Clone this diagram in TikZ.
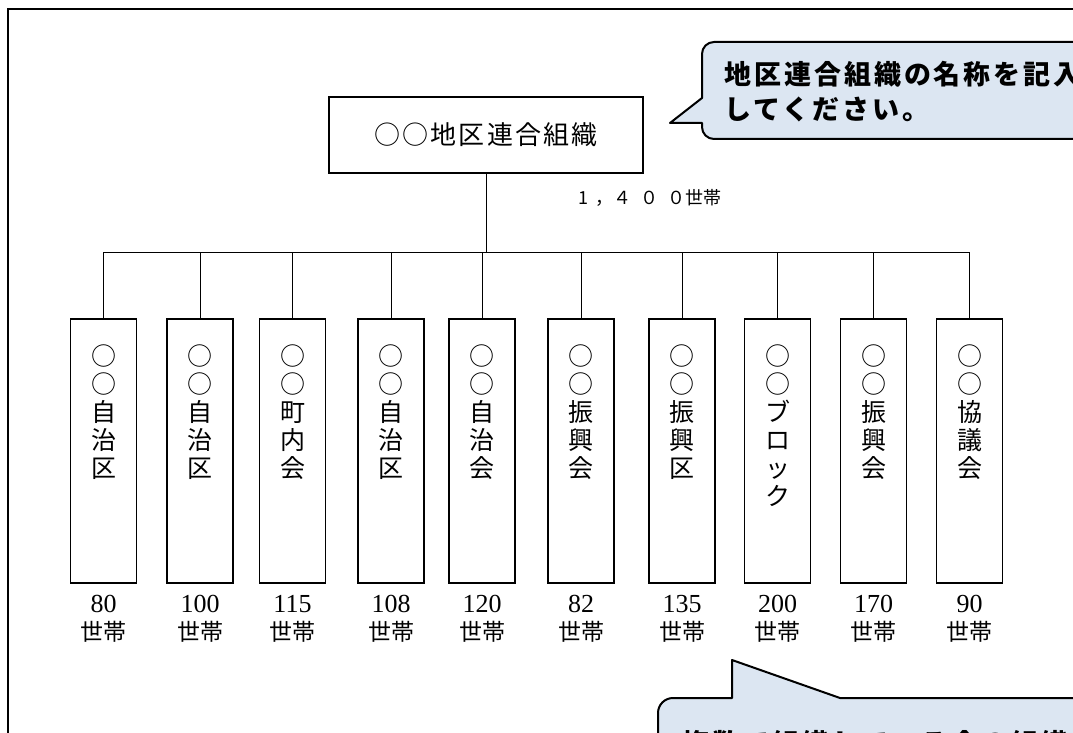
\documentclass[tikz,border=0pt]{standalone}
\usepackage{fontspec}
\setmainfont{Liberation Serif}
\newfontfamily\cjk{Noto Sans CJK JP}
\newfontfamily\cjkwide{Noto Sans CJK JP}[LetterSpace=8]
\newfontfamily\cjknote{Noto Sans CJK JP}[LetterSpace=11]
\usetikzlibrary{positioning}
\definecolor{notefill}{RGB}{220,230,242}

\begin{document}
\begin{tikzpicture}[x=1pt, y=-1pt,
    unit/.style={draw, line width=1.6pt, minimum width=66pt, minimum height=264pt, inner sep=0pt},
    vtext/.style={align=center, inner sep=0pt, font=\cjk\fontsize{25}{28}\selectfont},
    count/.style={align=center, inner sep=0pt, font=\fontsize{26}{28}\selectfont},
    note/.style={draw, line width=2pt, fill=notefill, line join=round},
    link/.style={line width=0.8pt}]
  \useasboundingbox (0,0) rectangle (1073,733);
  \clip (0,0) rectangle (1073,733);
  \draw[line width=2.5pt] (8,9) rectangle (1200,900);

  \node[draw, line width=1.6pt, minimum width=314pt, minimum height=76pt,
        font=\cjkwide\fontsize{26}{26}\selectfont] (top) at (486,135) {○○地区連合組織};
  \coordinate (bus) at (486,252);
  \node[inner sep=0pt, font=\cjk\fontsize{18}{18}\selectfont] (total) at (650,198)
    {1\hspace{8pt}，\hspace{0pt}４\hspace{9pt}０\hspace{9pt}０\hspace{0pt}世帯};

  \foreach \i/\x/\name/\num in {1/103.5/{○\\○\\自\\治\\区}/80, 2/200/{○\\○\\自\\治\\区}/100,
      3/292.5/{○\\○\\町\\内\\会}/115, 4/391/{○\\○\\自\\治\\区}/108,
      5/482/{○\\○\\自\\治\\会}/120, 6/581/{○\\○\\振\\興\\会}/82,
      7/682/{○\\○\\振\\興\\区}/135, 8/777.5/{○\\○\\ブ\\ロ\\ッ\\ク}/200,
      9/873.5/{○\\○\\振\\興\\会}/170, 10/969.5/{○\\○\\協\\議\\会}/90} {
    \node[unit] (c\i) at (\x,451) {};
    \node[vtext, below=26pt of c\i.north] (t\i) {\name};
    \node[count, below=11pt of c\i] (n\i) {\num\\{\cjk\fontsize{23}{28}\selectfont 世帯}};
    \draw[link] (c\i.north |- bus) -- (c\i.north);
  }
  \draw[link] (top.south) -- (bus);
  \draw[link] (c1.north |- bus) -- (c10.north |- bus);

  % callouts
  \draw[note] (702,123) -- (670,123) -- (702,98) -- (702,54)
    arc[start angle=180, end angle=270, radius=12] -- (1100,42) -- (1100,139) -- (714,139)
    arc[start angle=90, end angle=180, radius=12] -- cycle;
  \node[anchor=north west, align=left, inner sep=0pt,
        font=\cjknote\bfseries\fontsize{27}{35}\selectfont] (note1) at (724,61)
    {地区連合組織の名称を記入\\してください。};

  \draw[note] (732,698) -- (732,660) -- (840,698) -- (1100,698) -- (1100,800) -- (658,800) -- (658,713)
    arc[start angle=180, end angle=270, radius=15] -- cycle;
  \node[anchor=north west, inner sep=0pt,
        font=\cjknote\bfseries\fontsize{27}{27}\selectfont] (note2) at (682,730)
    {複数で組織している会の組織};
\end{tikzpicture}
\end{document}
